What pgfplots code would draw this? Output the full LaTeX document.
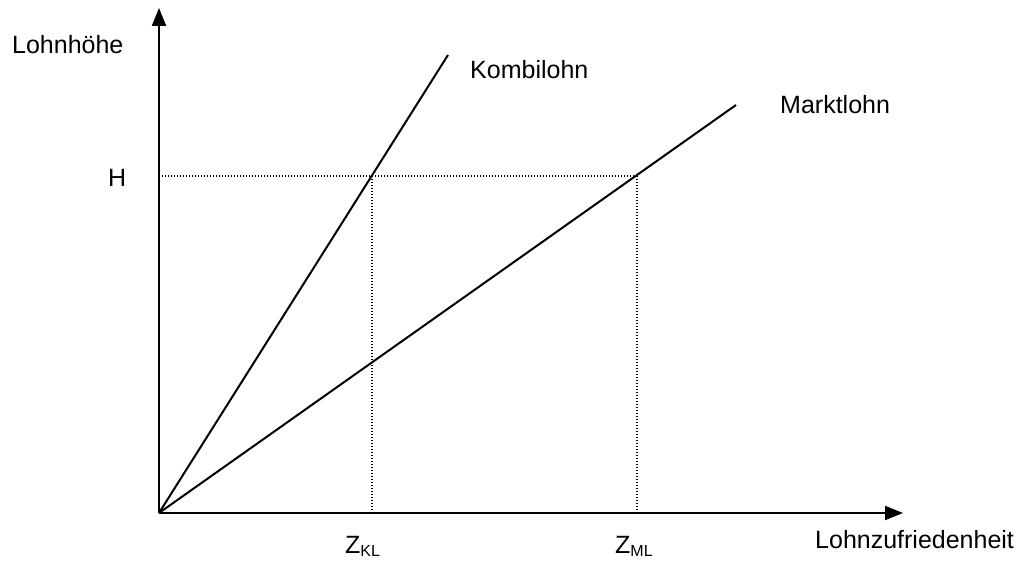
\documentclass[border=0pt]{standalone}
\usepackage{pgfplots}
\pgfplotsset{compat=1.18}
\usepackage{fontspec}
\setmainfont{Liberation Sans}
\usetikzlibrary{arrows.meta}
\newcommand{\lab}{\fontsize{25}{30}\selectfont}
\begin{document}
\begin{tikzpicture}
\begin{axis}[
  at={(0,0)}, anchor=origin,
  x=1pt, y=1pt,
  xmin=0, xmax=744, ymin=0, ymax=505,
  axis lines=left,
  axis line style={line width=2pt, -{Triangle[length=18pt,width=14pt]}},
  xtick=\empty, ytick=\empty,
  clip=false,
]
\addplot[black, line width=2pt] coordinates {(0,0) (289,458)};
\addplot[black, line width=2pt] coordinates {(0,0) (577,408)};
\addplot[black, line width=1.3pt, dash pattern=on 1.3pt off 1.7pt] coordinates {(0,337) (478,337)};
\addplot[black, line width=1.3pt, dash pattern=on 1.3pt off 1.7pt] coordinates {(213,337) (213,0)};
\addplot[black, line width=1.3pt, dash pattern=on 1.3pt off 1.7pt] coordinates {(478,337) (478,0)};
\node[anchor=west, inner sep=0pt, font=\lab] at (axis cs:-147,468) {Lohnhöhe};
\node[anchor=west, inner sep=0pt, font=\lab] at (axis cs:-51,335) {H};
\node[anchor=west, inner sep=0pt, font=\lab] at (axis cs:311,443) {Kombilohn};
\node[anchor=west, inner sep=0pt, font=\lab] at (axis cs:621,408) {Marktlohn};
\node[anchor=base west, inner sep=0pt, font=\lab] at (axis cs:186,-40) {Z\raisebox{-0.3ex}{\fontsize{16}{16}\selectfont KL}};
\node[anchor=base west, inner sep=0pt, font=\lab] at (axis cs:456,-40) {Z\raisebox{-0.3ex}{\fontsize{16}{16}\selectfont ML}};
\node[anchor=west, inner sep=0pt, font=\lab] at (axis cs:656,-27) {Lohnzufriedenheit};
\end{axis}
\pgfresetboundingbox
\path (-159pt,-47pt) rectangle (867pt,513pt);
\end{tikzpicture}
\end{document}
